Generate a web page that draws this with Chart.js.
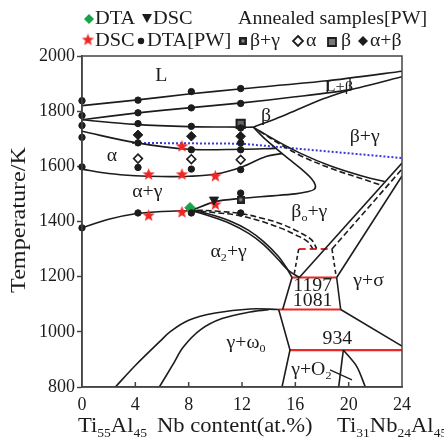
<!DOCTYPE html>
<html><head><meta charset="utf-8">
<script src="https://cdn.jsdelivr.net/npm/chart.js@4.4.1/dist/chart.umd.min.js"></script>
<style>html,body{margin:0;padding:0;background:#fff}</style>
</head><body>
<canvas id="c" width="444" height="441"></canvas>
<script>
// Ti-45Al-xNb isopleth. every curve is [Nb at.%, T/K]
const liquidus = [[0,1820],[4,1840],[8,1862],[12,1881],[18.4,1910],[24,1945]];
const solidus = [[0,1769],[4,1793],[8,1812],[12,1830],[16,1852],[20.1,1878],[24,1925]];
const lbBoxLeft = [[18.4,1867],[18.4,1910]];
const lbBoxRight = [[20.1,1878],[20.1,1920]];
const betaTransus = [[12.85,1742],[14.5,1772],[15.6,1794],[18.1,1845],[20.1,1878]];
const betaAlphaBeta = [[0,1769],[4,1752],[8,1744],[12,1742],[12.85,1742]];
const alphaBetaAlpha = [[0,1727],[4,1686],[8,1662],[12,1662],[14.5,1665]];
const alphaGamma = [[0,1590],[2,1574],[4,1566],[6,1563],[8,1564],[10,1572],[12,1598],[13.8,1636],[15.0,1646]];
const loopCurve = [[12.85,1742],[13.6,1705],[14.5,1667],[15.5,1627],[16.5,1588],[17.2,1556],[17.5,1532],[17.4,1516],[16.9,1508],[16,1500],[14,1492],[12,1484],[10,1472],[8.2,1440]];
const eutectoid = [[0,1377],[2,1408],[4,1428],[6,1436],[8.2,1440]];
const a2Upper = [[8.2,1440],[9.5,1427],[11.1,1402],[12.5,1368],[13.6,1328],[14.7,1275],[15.3,1235],[15.75,1197]];
const a2Lower = [[8.2,1440],[9.5,1421],[11.1,1393],[12.5,1357],[13.6,1317],[14.7,1263],[15.5,1222],[16.3,1197]];
const boDashA = [[8.2,1440],[10,1432],[11.75,1422],[13.5,1400],[14.9,1376],[16,1352],[16.9,1328],[17.3,1302]];
const boDashB = [[8.6,1441],[10,1438],[12,1428],[13.5,1412],[14.9,1392],[16.1,1366],[17.2,1334],[17.6,1302]];
const bgSolid = [[12.85,1742],[14.5,1695],[16.4,1647],[18.6,1602],[21,1565],[22.7,1545]];
const bgDash = [[13.3,1728],[14.8,1682],[16.6,1634],[18.8,1590],[21,1555],[22.4,1532]];
const diagV = [[16.3,1197],[24,1612]];
const diagRight = [[19.1,1197],[24,1565]];
const diagDash = [[18.75,1300],[24,1590]];
const dashLeft = [[16.25,1300],[15.9,1205]];
const dashRight = [[18.75,1300],[19.05,1205]];
const trapLeft = [[15.75,1197],[15.05,1081]];
const trapRight = [[19.1,1197],[19.4,1081]];
const domeOuter = [[2.5,800],[4,878],[5.9,968],[6.6,1000],[8,1042],[10,1068],[12.6,1083],[14.75,1081]];
const domeInner = [[5.8,800],[6.8,880],[7.6,945],[8.9,1008],[10.5,1048],[12.6,1072],[14,1080]];
const omegaRight = [[14.75,1081],[15.6,934],[15.0,800]];
const sigmaLine = [[19.4,1081],[24,948]];
const o2Left = [[19.6,934],[19.25,800]];
const o2Right = [[19.6,934],[20.6,875],[21.25,800]];
const o2Tick = [[18.6,862],[20.25,826]];
const isoDashed = [[16.25,1300],[18.75,1300]];
const iso1197 = [[15.75,1197],[19.1,1197]];
const iso1081 = [[14.75,1081],[19.4,1081]];
const iso934 = [[15.6,934],[24,934]];
const blueDotted = [[3.75,1685],[12,1682],[24,1630]];

// measured / annealed points
const dtaPwX = [0,0,0,0,0,0, 4.2,4.2,4.2,4.2,4.2,4.2, 8.2,8.2,8.2,8.2,8.2,8.2, 11.9,11.9,11.9,11.9,11.9,11.9,11.9,11.9];
const dtaPwT = [1838,1784,1748,1705,1598,1377, 1840,1794,1755,1685,1596,1431, 1871,1812,1745,1660,1590,1431, 1882,1828,1739,1685,1660,1588,1503,1431];
const dscStarX = [5,7.5,10,7.5,5,7.5,10];
const dscStarT = [1570,1570,1564,1672,1421,1433,1461];
const dscTriX = [9.9], dscTriT = [1479];
const dtaX = [8.1], dtaT = [1450];
const alphaX = [4.2,8.2,11.9], alphaT = [1628,1626,1624];
const alphaBetaX = [4.2,8.2,11.9], alphaBetaT = [1714,1709,1709];
const betaGammaX = [11.9], betaGammaT = [1479];
const betaX = [11.9], betaT = [1754];
const yTicks = [800,1000,1200,1400,1600,1800,2000];

const INK = '#1c1c1c', RED = '#ee2626', BLUE = '#3a3ad6', GREEN = '#18a34a';
const FONT = '"Liberation Serif", "Times New Roman", serif';

function starImg(r, color) {
  const s = Math.ceil(r * 2 + 2), c = document.createElement('canvas');
  c.width = c.height = s;
  const g = c.getContext('2d');
  g.fillStyle = color; g.beginPath();
  for (let i = 0; i < 10; i++) {
    const a = -Math.PI / 2 + i * Math.PI / 5, rr = i % 2 ? r * 0.42 : r;
    g.lineTo(s / 2 + rr * Math.cos(a), s / 2 + rr * Math.sin(a));
  }
  g.closePath(); g.fill();
  return c;
}
function boxImg(n) {
  const c = document.createElement('canvas'); c.width = c.height = n;
  const g = c.getContext('2d');
  g.fillStyle = '#222'; g.fillRect(0, 0, n, n);
  g.fillStyle = '#888'; g.fillRect(2.5, 2.5, n - 5, n - 5);
  return c;
}
const STAR = starImg(6.5, RED), BOX = boxImg(8);

const xy = (arr) => arr.map(([x, y]) => ({ x, y }));
const zip = (xs, ts) => xs.map((x, i) => ({ x, y: ts[i] }));
const ln = (arr, o = {}) => ({
  data: xy(arr), showLine: true, pointRadius: 0, fill: false, order: 5,
  borderColor: o.color || INK, borderWidth: o.w || 1.6, borderDash: o.dash || [],
  tension: o.t != null ? o.t : 0.35,
});
const mk = (data, style, o = {}) => ({
  data, showLine: false, pointStyle: style, pointRadius: o.r || 3, order: 1, clip: false,
  pointBackgroundColor: o.fill || INK, pointBorderColor: o.stroke || INK,
  pointBorderWidth: o.bw != null ? o.bw : 1, pointRotation: o.rot || 0,
});

const DASH = [6, 3];
const datasets = [
  ln(liquidus, { t: 0.2 }), ln(solidus, { t: 0.2 }), ln(lbBoxLeft, { t: 0, w: 1.3 }), ln(lbBoxRight, { t: 0, w: 1.3 }),
  ln(betaTransus, { t: 0.3 }), ln(betaAlphaBeta), ln(alphaBetaAlpha), ln(alphaGamma), ln(loopCurve, { t: 0.3 }),
  ln(eutectoid), ln(a2Upper), ln(a2Lower), ln(boDashA, { dash: DASH }), ln(boDashB, { dash: DASH }),
  ln(bgSolid), ln(bgDash, { dash: DASH }), ln(diagV, { t: 0 }), ln(diagRight, { t: 0 }), ln(diagDash, { t: 0, dash: DASH }),
  ln(dashLeft, { t: 0, dash: [4, 3] }), ln(dashRight, { t: 0, dash: [4, 3] }), ln(trapLeft, { t: 0 }), ln(trapRight, { t: 0 }),
  ln(domeOuter), ln(domeInner), ln(omegaRight, { t: 0 }), ln(sigmaLine, { t: 0 }),
  ln(o2Left, { t: 0 }), ln(o2Right, { t: 0.3 }), ln(o2Tick, { t: 0, w: 1.2 }),
  ln(isoDashed, { t: 0, color: RED, w: 2, dash: [7, 4] }), ln(iso1197, { t: 0, color: RED, w: 2.2 }),
  ln(iso1081, { t: 0, color: RED, w: 2.2 }), ln(iso934, { t: 0, color: RED, w: 2.2 }),
  ln(blueDotted, { t: 0, color: BLUE, w: 2, dash: [2, 2] }),
  mk(zip(dtaPwX, dtaPwT), 'circle', { r: 3.2 }),
  mk(zip(alphaX, alphaT), 'rectRot', { r: 4.4, fill: '#fff', bw: 1.6 }),
  mk(zip(alphaBetaX, alphaBetaT), 'rectRot', { r: 4.8 }),
  mk(zip(betaX, betaT), 'rect', { r: 5.8, fill: '#666', bw: 2 }),
  mk(zip(betaGammaX, betaGammaT), BOX, {}),
  mk(zip(dscTriX, dscTriT), 'triangle', { r: 5.2, rot: 180 }),
  mk(zip(dtaX, dtaT), 'rectRot', { r: 5.2, fill: GREEN, stroke: GREEN }),
  mk(zip(dscStarX, dscStarT), STAR, {}),
];

// text with subscripts: parts = [[text, isSub], ...]
function rich(ctx, parts, x, y, size, align, sx) {
  ctx.save(); ctx.translate(x, y); ctx.scale(sx || 1.1, 1);
  const fonts = parts.map(([, k]) => `${k ? Math.round(size * 0.6) : size}px ${FONT}`);
  let w = 0;
  const ws = parts.map(([t], i) => { ctx.font = fonts[i]; const m = ctx.measureText(t).width; w += m; return m; });
  let cx = align === 'left' ? 0 : align === 'right' ? -w : -w / 2;
  ctx.textBaseline = 'middle'; ctx.textAlign = 'left'; ctx.fillStyle = INK;
  parts.forEach(([t, k], i) => { ctx.font = fonts[i]; ctx.fillText(t, cx, k ? size * 0.32 : 0); cx += ws[i]; });
  ctx.restore();
}

const regionLabels = [
  { t: [['L']], x: 5.95, y: 1926 },
  { t: [['β']], x: 13.8, y: 1780 },
  { t: [['L+β']], x: 19.3, y: 1889, s: 15 },
  { t: [['β+γ']], x: 21.2, y: 1706 },
  { t: [['α']], x: 2.25, y: 1636 },
  { t: [['α+γ']], x: 4.9, y: 1506 },
  { t: [['β'], ['o', 1], ['+γ']], x: 17.05, y: 1432 },
  { t: [['α'], ['2', 1], ['+γ']], x: 11.0, y: 1289 },
  { t: [['1197']], x: 17.3, y: 1167 },
  { t: [['1081']], x: 17.3, y: 1110 },
  { t: [['γ+σ']], x: 21.5, y: 1182 },
  { t: [['γ+ω'], ['0', 1]], x: 12.3, y: 960 },
  { t: [['934']], x: 19.15, y: 972 },
  { t: [['γ+O'], ['2', 1]], x: 17.2, y: 862 },
];

function sym(ctx, kind, x, y) {
  ctx.save(); ctx.translate(x, y);
  if (kind === 'star') ctx.drawImage(STAR, -STAR.width / 2, -STAR.height / 2);
  else if (kind === 'box') ctx.drawImage(BOX, -4, -4);
  else {
    ctx.beginPath();
    if (kind === 'dot') ctx.arc(0, 0, 3.2, 0, Math.PI * 2);
    if (kind === 'tri') { ctx.moveTo(-5, -4); ctx.lineTo(5, -4); ctx.lineTo(0, 5); ctx.closePath(); }
    if (kind === 'sq') ctx.rect(-4, -4, 8, 8);
    if (kind.startsWith('dia')) { ctx.moveTo(0, -5); ctx.lineTo(5, 0); ctx.lineTo(0, 5); ctx.lineTo(-5, 0); ctx.closePath(); }
    if (kind === 'diaOpen' || kind === 'sq') { ctx.fillStyle = kind === 'sq' ? '#777' : '#fff'; ctx.fill(); ctx.lineWidth = 1.8; ctx.strokeStyle = INK; ctx.stroke(); }
    else { ctx.fillStyle = kind === 'diaG' ? GREEN : INK; ctx.fill(); }
  }
  ctx.restore();
}

const decor = {
  id: 'decor',
  afterDraw(chart) {
    const { ctx, chartArea: a, scales: { x, y } } = chart;
    ctx.save();
    ctx.strokeStyle = '#444'; ctx.lineWidth = 1.5;
    ctx.strokeRect(a.left, a.top, a.right - a.left, a.bottom - a.top);
    ctx.beginPath();
    [4, 8, 12, 16, 20].forEach((v) => { const px = x.getPixelForValue(v); ctx.moveTo(px, a.bottom); ctx.lineTo(px, a.bottom - 5); });
    ctx.stroke();
    regionLabels.forEach((l) => rich(ctx, l.t, x.getPixelForValue(l.x), y.getPixelForValue(l.y), l.s || 18, 'center', 1.1));
    // legend
    const LS = 18;
    sym(ctx, 'diaG', 89, 19); rich(ctx, [['DTA']], 95, 19, LS, 'left', 1.13);
    sym(ctx, 'tri', 147, 18); rich(ctx, [['DSC']], 153, 19, LS, 'left', 1.13);
    rich(ctx, [['Annealed samples[PW]']], 238, 19, LS, 'left', 1.11);
    sym(ctx, 'star', 88, 40); rich(ctx, [['DSC']], 95, 41, LS, 'left', 1.13);
    sym(ctx, 'dot', 141, 41); rich(ctx, [['DTA[PW]']], 147, 41, LS, 'left', 1.13);
    sym(ctx, 'box', 243, 41); rich(ctx, [['β+γ']], 250, 41, LS, 'left', 1.1);
    sym(ctx, 'diaOpen', 298, 41); rich(ctx, [['α']], 306, 41, LS, 'left', 1.1);
    sym(ctx, 'sq', 332, 42); rich(ctx, [['β']], 341, 41, LS, 'left', 1.1);
    sym(ctx, 'dia', 363, 41); rich(ctx, [['α+β']], 370, 41, LS, 'left', 1.1);
    // axis captions
    rich(ctx, [['Ti'], ['55', 1], ['Al'], ['45', 1]], 78, 427, 20, 'left', 1.13);
    rich(ctx, [['Nb content(at.%)']], 157, 427, 20, 'left', 1.13);
    rich(ctx, [['Ti'], ['31', 1], ['Nb'], ['24', 1], ['Al'], ['45', 1]], 337, 427, 20, 'left', 1.13);
    ctx.save(); ctx.translate(19, 220); ctx.rotate(-Math.PI / 2);
    rich(ctx, [['Temperature/K']], 0, 0, 21, 'center', 1.15);
    ctx.restore();
    ctx.restore();
  },
};

new Chart(document.getElementById('c'), {
  type: 'scatter',
  data: { datasets },
  options: {
    responsive: false, animation: false, devicePixelRatio: 1,
    layout: { padding: { top: 56, right: 42, left: 0, bottom: 0 } },
    plugins: { legend: { display: false }, tooltip: { enabled: false } },
    scales: {
      x: { type: 'linear', min: 0, max: 24, afterFit: (s) => { s.height = 54; },
        ticks: { stepSize: 4, color: INK, font: { family: FONT, size: 18 }, padding: 7, maxRotation: 0 },
        grid: { drawOnChartArea: false, drawTicks: false }, border: { color: '#444', width: 1.5 } },
      y: { min: 800, max: 2000, afterFit: (s) => { s.width = 82; },
        afterBuildTicks: (s) => { s.ticks = yTicks.map((v) => ({ value: v })); },
        ticks: { color: INK, font: { family: FONT, size: 18 }, padding: 2, callback: (v) => String(v) },
        grid: { drawOnChartArea: false, tickLength: 5, color: '#444', tickWidth: 1.5 }, border: { color: '#444', width: 1.5 } },
    },
  },
  plugins: [decor],
});
</script>
</body></html>
